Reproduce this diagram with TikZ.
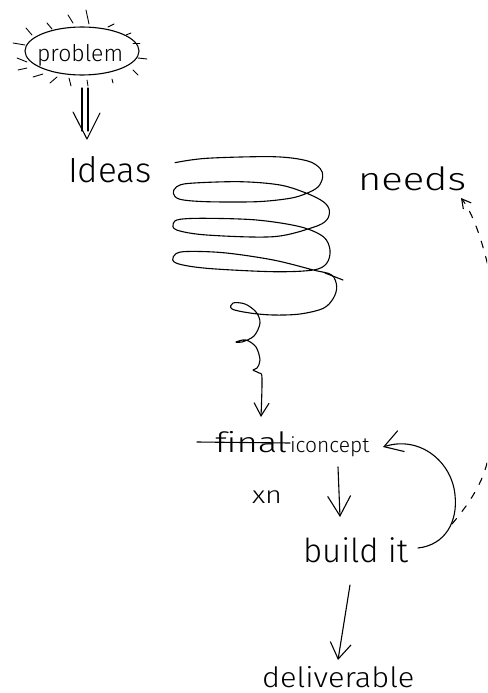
\documentclass[tikz,border=0pt]{standalone}
\usepackage{fontspec}
\setmainfont{Fira Sans Light}
\usetikzlibrary{arrows.meta, shapes.geometric}
\begin{document}
\begin{tikzpicture}[x=1pt, y=-1pt, line cap=round, line join=round,
  pen/.style={line width=1.1pt, black},
  hand/.style={inner sep=0pt, outer sep=0pt, anchor=base west, transform shape},
  vhead/.style args={#1/#2}{-{Straight Barb[length=#1pt, width=#2pt, line width=1.1pt]}}]
\useasboundingbox (0,0) rectangle (487,693);
\clip (0,0) rectangle (487,693);

% --- the problem, with its glow ---
\node[pen, draw, ellipse, minimum width=114pt, minimum height=48pt, inner sep=0pt] (probring) at (82,51) {};
\node[hand, font=\fontsize{23}{23}\selectfont] (prob) at (37,62) {problem};
\foreach \ax/\ay/\bx/\by in {13/43/25/45, 26/28/32/35, 47/23/52/29, 68/15/73/23, 86/10/89/24,
    108/27/114/24, 126/35/131/33, 133/43/140/43, 138/58/147/59, 133/70/138/75,
    112/79/113/83, 87/80/88/86, 69/78/71/86, 50/83/57/77, 33/77/43/74, 17/58/27/62, 18/70/27/68}
  \draw[pen, line width=0.9pt] (\ax,\ay) -- (\bx,\by);

% --- double arrow down to the ideas ---
\coordinate (dblA) at (82,88);
\coordinate (dblB) at (88,88);
\coordinate (dblTip) at (87,139);
\draw[pen] (dblA) -- (82,131);
\draw[pen] (dblB) -- (88,131);
\draw[pen] (73,112) -- (dblTip) -- (100,113);

\node[hand, font=\fontsize{35}{35}\selectfont] (ideas) at (68,182) {Ideas};
\node[hand, font=\fontsize{32}{32}\selectfont, xscale=1.25] (needs) at (358,190) {needs};

% --- the coil of ideas, trailing down into the concept ---
\draw[pen, vhead=13/15] plot[smooth, tension=0.55] coordinates {
  (175,162.7) (206.7,158.3) (273.3,156.7) (306.7,160.7) (320,168.3) (322.7,176.7)
  (318.3,186.7) (306.7,193.3) (290,198.3) (256.7,201.7) (206.7,201.7) (180,199.3)
  (173.3,193.3) (176.7,186.7) (190,183.3) (240,181.7) (280,185) (306.7,193.3)
  (323.3,201.7) (329.3,210) (326.7,220) (313.3,227.3) (273.3,236.7) (206.7,235)
  (176.7,230) (173.3,223.3) (180,219.3) (206.7,218.3) (256.7,220) (300,226.7)
  (323.3,236.7) (330,250) (326.7,263.3) (313.3,270) (273.3,271.7) (206.7,268.3)
  (176.7,263.3) (173.3,256.7) (183.3,251.7) (223.3,252.7) (273.3,260) (313.3,270)
  (331.7,275) (336.7,286.7) (333.3,298.3) (323.3,308.3) (300,314) (273.3,315)
  (250,313) (232,309) (233,303) (245,304) (256,312) (260,323) (254,336) (242,342)
  (236,342) (246,340) (256,347) (260,360) (257,368) (253,370) (259,373) (262,378)
  (261,417)};
\draw[pen] (325,273) -- (343,280);

% --- concept and the build loop ---
\node[hand, font=\fontsize{28}{28}\selectfont, xscale=1.3] (final) at (215,452) {f\kern0pt inal};
\draw[pen] (197,442) -- (290,443);
\node[hand, font=\fontsize{21}{21}\selectfont] (concept) at (290,452) {iconcept};
\node[hand, font=\fontsize{24}{24}\selectfont, xscale=1.2] (xn) at (252,503) {xn};
\node[hand, font=\fontsize{33}{33}\selectfont] (build) at (303,562) {build it};
\node[hand, font=\fontsize{28}{28}\selectfont, xscale=1.1] (deliv) at (262,687) {deliverable};

\coordinate (cOut) at (338,467);
\coordinate (bIn) at (340,517);
\draw[pen, vhead=20/23] (cOut) -- (bIn);

\coordinate (bRight) at (418,548);
\coordinate (cRight) at (383,447);
\draw[pen, vhead=18/22] (bRight) .. controls (445,545) and (458,522) .. (455,495)
  .. controls (452,462) and (420,435) .. (cRight);

\coordinate (bOut) at (350,585);
\coordinate (dIn) at (338,660);
\draw[pen, vhead=16/21] (bOut) -- (dIn);

% --- dashed feedback up to the needs, running off the page edge ---
\coordinate (fbStart) at (452,524);
\coordinate (fbTip) at (461,198);
\draw[pen, dash pattern=on 7pt off 9pt, vhead=9/10] (fbStart)
  .. controls (468,505) and (484,482) .. (488,458)
  .. controls (500,400) and (500,310) .. (486,258)
  .. controls (480,235) and (472,212) .. (fbTip);
\end{tikzpicture}
\end{document}
